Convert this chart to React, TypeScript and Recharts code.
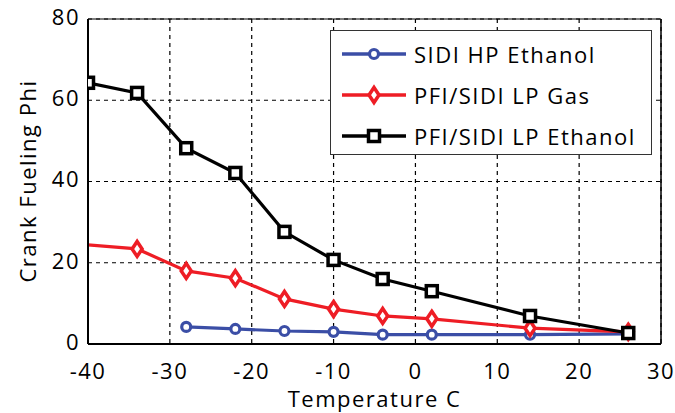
import React from "react";
import {
  LineChart,
  Line,
  XAxis,
  YAxis,
  CartesianGrid,
  ReferenceLine,
} from "recharts";

const hpEthTemp = [-28, -22, -16, -10, -4, 2, 14, 26];
const hpEthPhi = [4.2, 3.7, 3.2, 3.0, 2.3, 2.3, 2.3, 2.5];

const lpGasTemp = [-46, -34, -28, -22, -16, -10, -4, 2, 14, 26];
const lpGasPhi = [25.4, 23.4, 18.0, 16.2, 11.1, 8.6, 6.9, 6.2, 3.9, 3.0];

const lpEthTemp = [-40, -34, -28, -22, -16, -10, -4, 2, 14, 26];
const lpEthPhi = [64.3, 61.8, 48.2, 42.1, 27.6, 20.7, 16.0, 13.0, 6.9, 2.7];

const xTicks = [-40, -30, -20, -10, 0, 10, 20, 30];
const yTicks = [0, 20, 40, 60, 80];

const seriesNames = ["SIDI HP Ethanol", "PFI/SIDI LP Gas", "PFI/SIDI LP Ethanol"];

const BLUE = "#3b4ea6";
const RED = "#ee1d25";
const BLACK = "#000000";
const FONT = "'Open Sans', 'DejaVu Sans', sans-serif";
const textStyle = { fontSize: 22, letterSpacing: 1.5, fill: "#000" };

const toPoints = (t: number[], v: number[]) => t.map((x, i) => ({ x, y: v[i] }));

const hpEth = toPoints(hpEthTemp, hpEthPhi);
const lpGas = toPoints(lpGasTemp, lpGasPhi);
const lpEth = toPoints(lpEthTemp, lpEthPhi);

function Circle({ cx, cy }: any) {
  return <circle cx={cx} cy={cy} r={4.5} fill="#fff" stroke={BLUE} strokeWidth={3.2} />;
}

function Diamond({ cx, cy }: any) {
  const w = 5;
  const h = 7.5;
  return (
    <path
      d={`M${cx},${cy - h}L${cx + w},${cy}L${cx},${cy + h}L${cx - w},${cy}Z`}
      fill="#fff"
      stroke={RED}
      strokeWidth={3.5}
    />
  );
}

function Square({ cx, cy }: any) {
  const s = 5.5;
  return (
    <rect x={cx - s} y={cy - s} width={s * 2} height={s * 2} fill="#fff" stroke={BLACK} strokeWidth={3.5} />
  );
}

const dotFns = [
  (p: any) => <Circle key={p.index} {...p} />,
  (p: any) => <Diamond key={p.index} {...p} />,
  (p: any) => <Square key={p.index} {...p} />,
];
const colors = [BLUE, RED, BLACK];
const markers = [Circle, Diamond, Square];

function LegendBox() {
  return (
    <div
      style={{
        position: "absolute",
        left: 330,
        top: 30,
        width: 322,
        height: 125,
        border: "1px solid #333",
        background: "#fff",
        fontFamily: FONT,
        fontSize: 22,
        letterSpacing: 1.5,
        paddingTop: 2,
        boxSizing: "border-box",
      }}
    >
      {seriesNames.map((name, i) => {
        const M = markers[i];
        return (
          <div key={name} style={{ display: "flex", alignItems: "center", height: 41, whiteSpace: "nowrap" }}>
            <svg width={83} height={24} style={{ flexShrink: 0 }}>
              <line x1={11} y1={12} x2={75} y2={12} stroke={colors[i]} strokeWidth={3.5} />
              <M cx={43} cy={12} />
            </svg>
            <span style={{ color: "#000" }}>{name}</span>
          </div>
        );
      })}
    </div>
  );
}

export default function App() {
  return (
    <div style={{ position: "fixed", left: 0, top: 0, width: 675, height: 413, background: "#fff" }}>
      <LineChart
        width={675}
        height={413}
        margin={{ top: 19, right: 14, bottom: 3, left: 0 }}
        style={{ fontFamily: FONT }}
      >
        <ReferenceLine y={80} stroke="#000" strokeWidth={1} />
        <ReferenceLine x={30} stroke="#000" strokeWidth={1.5} />
        <CartesianGrid stroke="#000" strokeDasharray="4 4" strokeWidth={1.2} />
        <XAxis
          type="number"
          dataKey="x"
          domain={[-40, 30]}
          ticks={xTicks}
          allowDataOverflow
          height={66}
          tickLine={false}
          tickMargin={13}
          axisLine={{ stroke: "#000", strokeWidth: 2 }}
          tick={textStyle}
          label={{
            value: "Temperature C",
            position: "insideBottom",
            offset: 3,
            style: textStyle,
          }}
        />
        <YAxis
          type="number"
          dataKey="y"
          domain={[0, 80]}
          ticks={yTicks}
          width={88}
          tickLine={false}
          axisLine={{ stroke: "#000", strokeWidth: 2 }}
          tick={{ ...textStyle, dy: -2 }}
          label={() => (
            <text
              x={27}
              y={181}
              transform="rotate(-90 27 181)"
              textAnchor="middle"
              dominantBaseline="central"
              style={textStyle}
            >
              Crank Fueling Phi
            </text>
          )}
        />
        {[hpEth, lpGas, lpEth].map((d, i) => (
          <Line
            key={seriesNames[i]}
            data={d}
            dataKey="y"
            name={seriesNames[i]}
            type="linear"
            stroke={colors[i]}
            strokeWidth={3.2}
            dot={dotFns[i]}
            activeDot={false}
            isAnimationActive={false}
          />
        ))}
      </LineChart>
      <LegendBox />
    </div>
  );
}
